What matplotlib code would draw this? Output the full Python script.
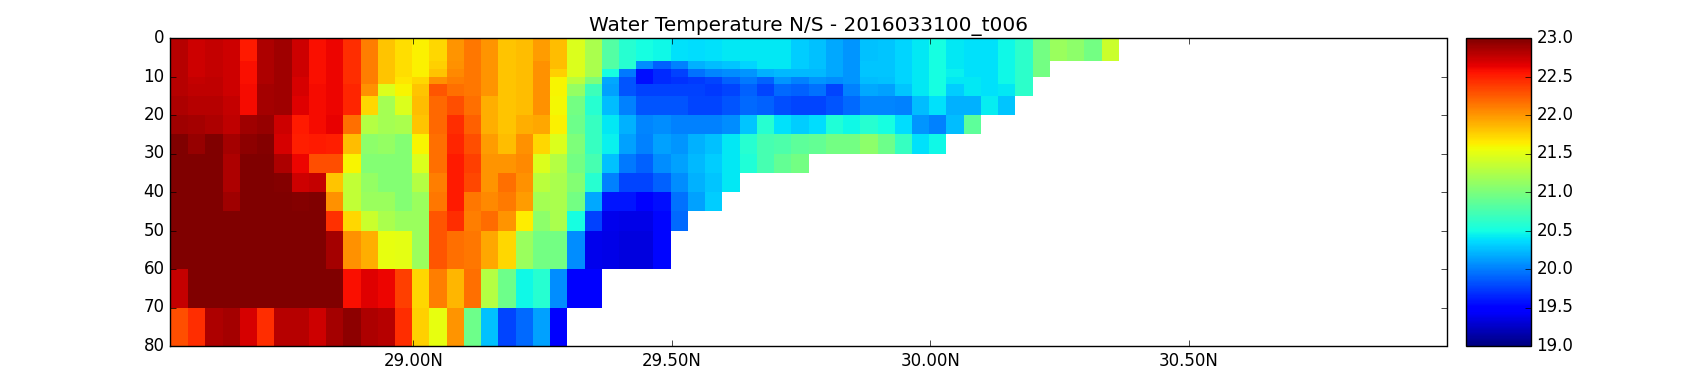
import numpy as np
import matplotlib
matplotlib.use("Agg")
import matplotlib.pyplot as plt

plt.style.use("classic")

title = "Water Temperature N/S - 2016033100_t006"
depth_edges = [0, 6, 8, 10, 12, 15, 20, 25, 30, 35, 40, 45, 50, 60, 70, 80]
lat_start = 28.5313
lat_step = 1 / 30
lat_ticks = [29.0, 29.5, 30.0, 30.5]
lat_labels = ["29.00N", "29.50N", "30.00N", "30.50N"]
depth_ticks = [0, 10, 20, 30, 40, 50, 60, 70, 80]
cbar_ticks = [19.0, 19.5, 20.0, 20.5, 21.0, 21.5, 22.0, 22.5, 23.0]

# one list per latitude column, from the surface down; shorter lists hit the sea floor
temp_columns = [
    [22.8,22.8,22.8,22.8,22.8,22.83,22.89,23,23,23,23,23,23,22.75,22.3],
    [22.72,22.72,22.72,22.75,22.78,22.8,22.86,22.92,23,23,23,23,23,23,22.45],
    [22.75,22.75,22.75,22.77,22.78,22.8,22.83,23,23,23,23,23,23,23,22.83],
    [22.72,22.72,22.72,22.72,22.72,22.75,22.78,22.86,22.83,22.83,22.89,23,23,23,22.86],
    [22.52,22.57,22.57,22.57,22.58,22.58,22.89,22.95,23,23,23,23,23,23,22.7],
    [22.83,22.83,22.83,22.83,22.86,22.86,22.92,22.97,23,23,23,23,23,23,22.45],
    [22.89,22.89,22.89,22.89,22.89,22.89,22.72,22.7,22.83,22.97,23,23,23,23,22.8],
    [22.72,22.72,22.72,22.7,22.7,22.67,22.52,22.5,22.61,22.72,22.97,23,23,23,22.8],
    [22.57,22.57,22.57,22.57,22.59,22.58,22.58,22.52,22.3,22.75,23,23,23,23,22.72],
    [22.61,22.61,22.61,22.61,22.61,22.61,22.63,22.5,22.3,21.8,22.03,22.43,22.86,23,22.86],
    [22.45,22.45,22.45,22.45,22.48,22.48,22.16,21.83,21.6,21.34,21.34,21.72,22.03,22.57,22.95],
    [22.1,22.1,22.1,22.1,22.03,21.72,21.27,21.08,21.04,21.11,21.15,21.38,21.9,22.67,22.83],
    [21.8,21.8,21.8,21.8,21.46,21.19,21.19,21.11,21.04,21.04,21.15,21.23,21.53,22.61,22.8],
    [21.69,21.69,21.69,21.66,21.6,21.46,21.23,21.04,21.04,21.04,21.04,21.15,21.5,22.37,22.45],
    [21.62,21.62,21.62,21.72,21.8,21.83,21.8,21.6,21.46,21.27,21.15,21.15,21.15,21.72,21.76],
    [21.72,21.76,21.8,22.03,22.27,22.2,22.2,22.16,22.16,22.1,22.13,22.27,22.27,22.1,21.53],
    [22.0,22.03,22.06,22.1,22.16,22.3,22.45,22.47,22.52,22.52,22.52,22.45,22.16,21.86,22.0],
    [22.13,22.13,22.13,22.13,22.13,22.16,22.23,22.3,22.37,22.33,22.13,22.1,22.13,22.16,20.93],
    [22.0,22.0,22.0,22.0,22.0,21.9,21.9,21.98,22.0,22.0,22.06,22.18,21.93,21.27,20.25],
    [21.8,21.8,21.8,21.8,21.8,21.8,21.8,21.84,22.0,22.17,22.12,22.0,21.72,20.93,19.78],
    [21.83,21.83,21.83,21.83,21.83,21.83,21.9,22.03,22.05,22.03,21.98,21.64,21.15,20.47,19.91],
    [21.98,22.02,22.02,22.02,22.03,22.03,21.93,21.72,21.46,21.3,21.19,21.08,20.96,20.58,20.13],
    [21.83,21.83,21.76,21.6,21.6,21.58,21.62,21.46,21.27,21.23,21.23,21.23,20.96,20.06,19.45],
    [21.46,21.46,21.46,21.3,21.11,20.96,20.93,21.0,20.96,21.04,20.96,20.51,20.06,19.45],
    [21.23,21.23,21.23,21.0,20.7,20.58,20.66,20.66,20.74,20.58,20.16,19.75,19.38,19.45],
    [20.81,20.81,20.51,20.16,20.13,20.24,20.42,20.44,20.25,20.0,19.59,19.38,19.36],
    [20.58,20.58,19.97,19.84,19.84,20.0,20.19,20.13,19.97,19.78,19.59,19.36,19.33],
    [20.51,20.06,19.56,19.56,19.75,19.84,20.03,20.0,19.88,19.78,19.45,19.36,19.33],
    [20.47,19.88,19.66,19.66,19.75,19.84,20.06,20.13,20.06,19.88,19.56,19.53,19.53],
    [20.38,20.0,19.75,19.69,19.75,19.84,20.0,20.08,20.13,20.06,19.94,19.91],
    [20.36,20.19,19.94,19.72,19.75,19.78,20.0,20.19,20.22,20.19,20.14],
    [20.38,20.24,20.03,19.78,19.72,19.78,20.0,20.25,20.31,20.28,20.31],
    [20.42,20.28,20.06,19.88,19.78,19.84,20.06,20.41,20.41,20.42],
    [20.42,20.34,20.09,19.97,19.88,19.91,20.28,20.58,20.55],
    [20.42,20.42,20.19,19.88,19.78,19.88,20.58,20.74,20.74],
    [20.41,20.41,20.22,20.09,19.91,19.81,20.38,20.77,20.89],
    [20.31,20.3,20.22,20.0,19.88,19.78,20.31,20.85,20.96],
    [20.25,20.25,20.22,20.09,19.94,19.78,20.36,20.89],
    [20.16,20.16,20.16,20.06,19.78,19.84,20.55,20.96],
    [20.09,20.09,20.09,20.09,20.0,19.91,20.47,20.96],
    [20.25,20.28,20.28,20.24,20.16,20.03,20.58,21.08],
    [20.28,20.28,20.28,20.25,20.13,20.03,20.51,20.93],
    [20.33,20.33,20.34,20.34,20.28,20.0,20.36,20.66],
    [20.42,20.42,20.42,20.42,20.41,20.24,20.09,20.38],
    [20.51,20.51,20.51,20.51,20.51,20.38,20.0,20.47],
    [20.42,20.42,20.44,20.41,20.31,20.19,20.24],
    [20.38,20.38,20.38,20.41,20.41,20.19,20.85],
    [20.38,20.38,20.38,20.38,20.38,20.43],
    [20.47,20.47,20.47,20.47,20.42,20.28],
    [20.62,20.62,20.62,20.62,20.62],
    [20.96,20.96,20.96],
    [21.15],
    [21.08],
    [20.96],
    [21.38],
]

n_rows = len(depth_edges) - 1
grid = np.full((n_rows, len(temp_columns)), np.nan)
for j, col in enumerate(temp_columns):
    grid[: len(col), j] = col
grid = np.ma.masked_invalid(grid)
lat_edges = lat_start + lat_step * np.arange(len(temp_columns) + 1)

fig = plt.figure(figsize=(17, 3.84), dpi=100, facecolor="white")
ax = fig.add_axes([170 / 1700, 1 - 346 / 384, 1276.5 / 1700, 308 / 384])
cax = fig.add_axes([1466 / 1700, 1 - 346 / 384, 64.7 / 1700, 308 / 384])

mesh = ax.pcolormesh(lat_edges, depth_edges, grid, cmap="jet", vmin=19, vmax=23,
                     shading="flat", linewidth=0, antialiased=False)
ax.set_xlim(28.5295, 30.9985)
ax.set_ylim(80, 0)
ax.set_xticks(lat_ticks)
ax.set_xticklabels(lat_labels)
ax.set_yticks(depth_ticks)
ax.set_title(title)

cb = fig.colorbar(mesh, cax=cax)
cb.set_ticks(cbar_ticks)
cb.ax.set_yticklabels([f"{t:.1f}" for t in cbar_ticks])

fig.savefig("out.png", dpi=100, facecolor="white")
